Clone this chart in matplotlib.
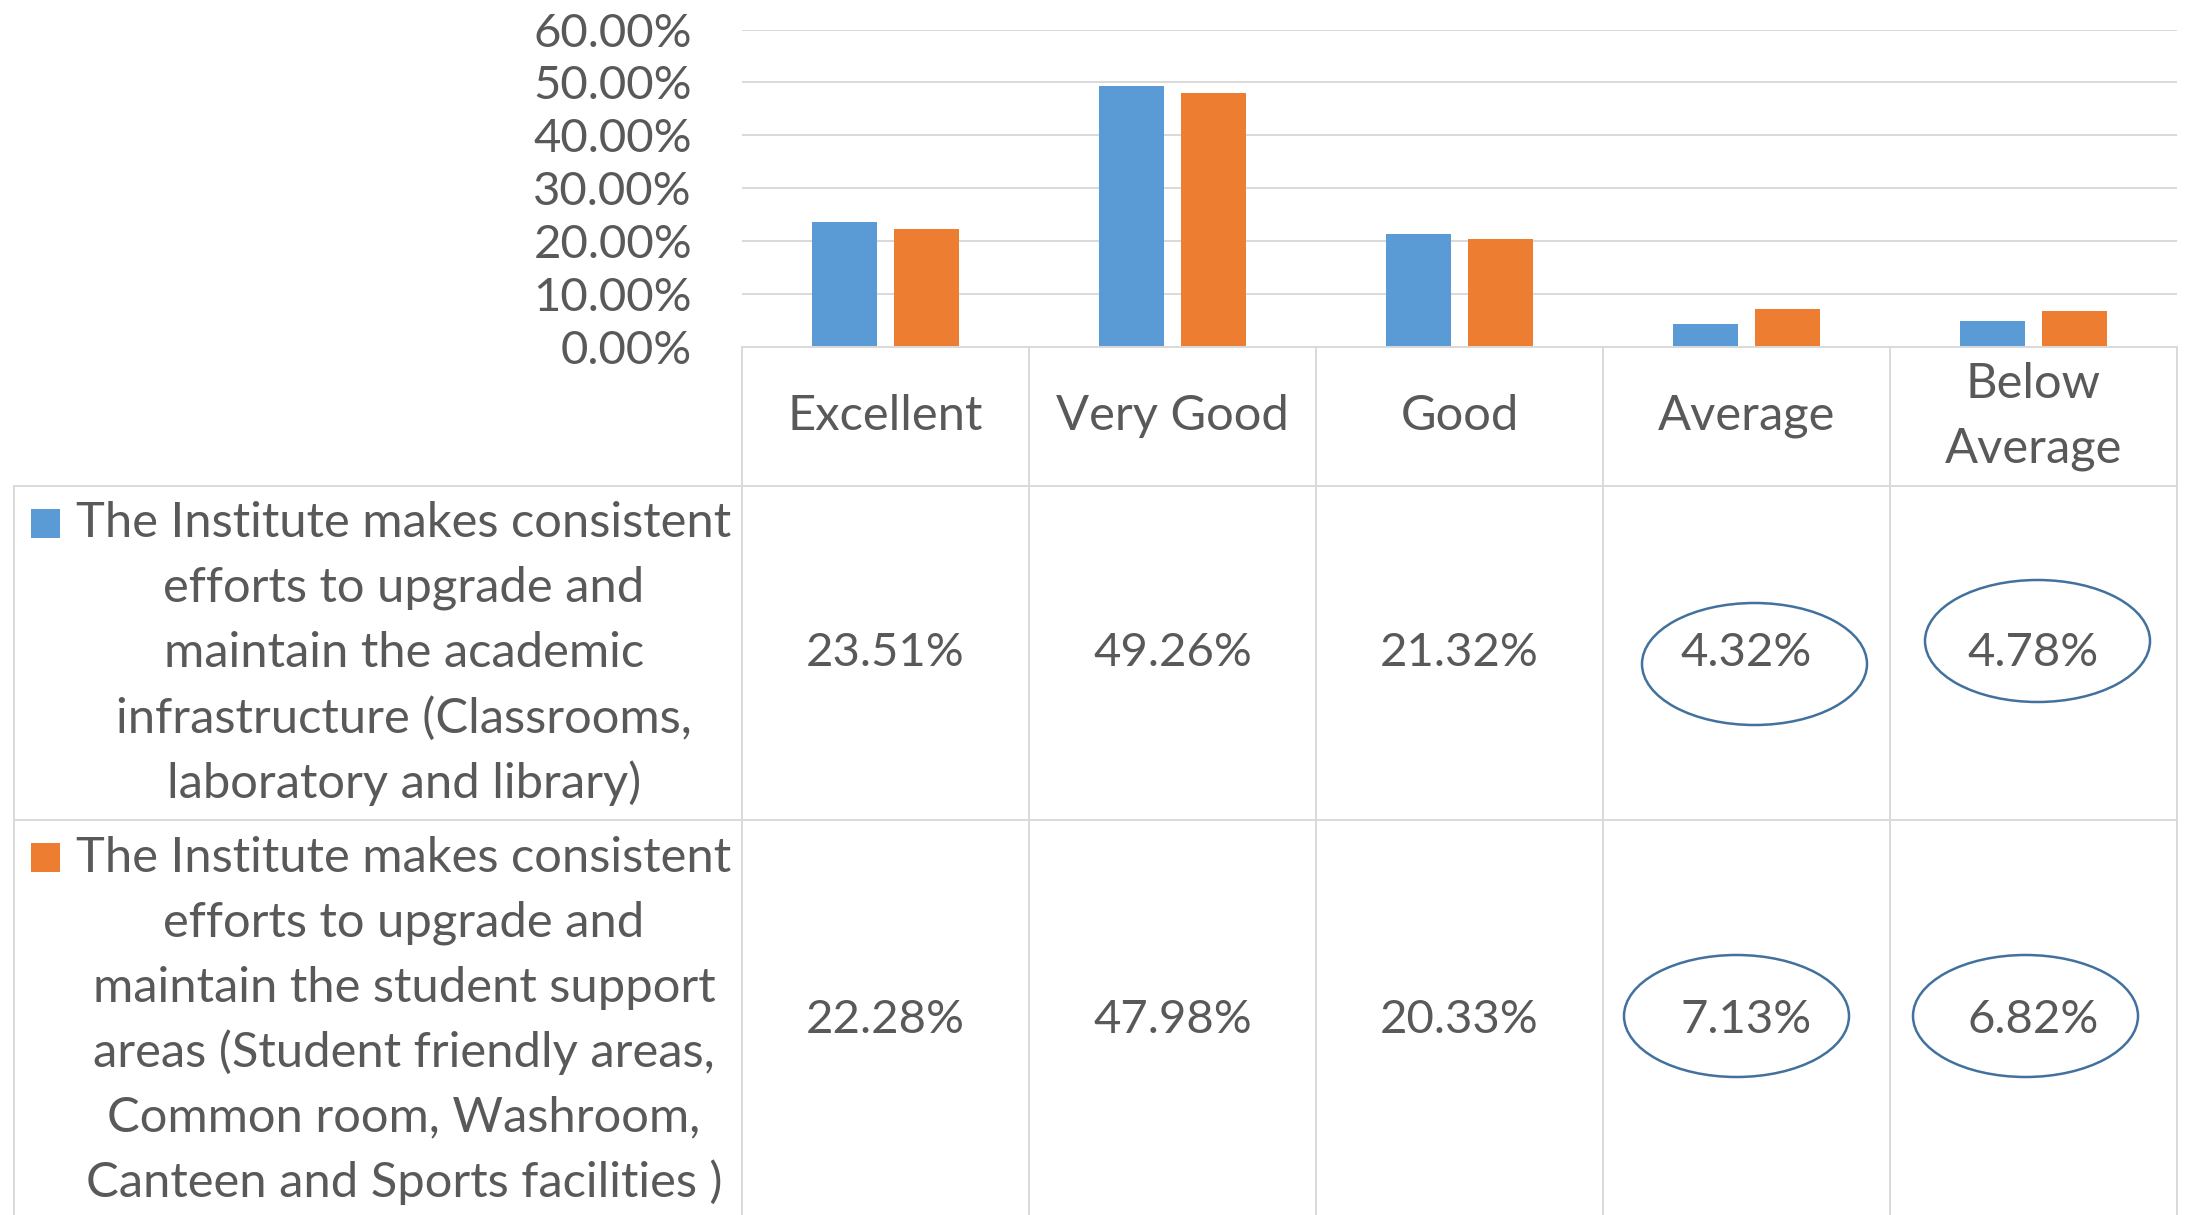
import matplotlib.pyplot as plt
from matplotlib.patches import Ellipse, Rectangle
from matplotlib.ticker import PercentFormatter

categories = ['Excellent', 'Very Good', 'Good', 'Average', 'Below\nAverage']
academic = [0.2351, 0.4926, 0.2132, 0.0432, 0.0478]
student = [0.2228, 0.4798, 0.2033, 0.0713, 0.0682]
series_labels = [
    'The Institute makes consistent\nefforts to upgrade and\nmaintain the academic\n'
    'infrastructure (Classrooms,\nlaboratory and library)',
    'The Institute makes consistent\nefforts to upgrade and\nmaintain the student support\n'
    'areas (Student friendly areas,\nCommon room, Washroom,\nCanteen and Sports facilities )',
]
y_ticks = [0.0, 0.1, 0.2, 0.3, 0.4, 0.5, 0.6]
# cells circled by hand: (row, column, x offset px, y offset px)
circled = [(0, 3, 8, 11), (0, 4, 4, -12), (1, 3, -10, -4), (1, 4, -8, -4)]

BLUE = '#5B9BD5'
ORANGE = '#ED7D31'
TEXT = '#595959'
GRID = '#D9D9D9'
RING = '#41719C'
FS = 34
FS_TABLE = 35.2

plt.rcParams['font.family'] = ['Lato', 'DejaVu Sans']

W, H = 2191, 1215
fig = plt.figure(figsize=(W / 100, H / 100), dpi=100)

# layout, in pixels of the output picture
PLOT_L, PLOT_R = 742, 2177
ZERO_Y, TOP_Y = 346.6, 29.6
TABLE_L = 14
ROW_EDGES = [ZERO_Y, 486, 820, 1220]
LINE_PITCH = 65
KEY = 29
unit = (PLOT_R - PLOT_L) / len(categories)  # px per category
label_w = (PLOT_L - TABLE_L) / unit

# --- bar chart ---
ax = fig.add_axes([PLOT_L / W, 1 - ZERO_Y / H, (PLOT_R - PLOT_L) / W, (ZERO_Y - TOP_Y) / H])
x = list(range(len(categories)))
bw, off = 0.224, 0.143
ax.bar([i - off for i in x], academic, bw, color=BLUE, zorder=3)
ax.bar([i + off for i in x], student, bw, color=ORANGE, zorder=3)
ax.set_xlim(-0.5, len(categories) - 0.5)
ax.set_ylim(0, 0.6)
ax.set_yticks(y_ticks)
ax.yaxis.set_major_formatter(PercentFormatter(xmax=1, decimals=2))
ax.tick_params(axis='y', length=0, pad=36, labelsize=FS, labelcolor=TEXT)
ax.set_xticks([])
for s in ax.spines.values():
    s.set_visible(False)
for t in y_ticks[1:]:
    ax.axhline(t, color=GRID, lw=1.4, zorder=1)
ax.patch.set_alpha(0)

# --- data table below ---
tb = fig.add_axes([TABLE_L / W, 0, (PLOT_R - TABLE_L) / W, 1 - ZERO_Y / H])
tb.set_xlim(-0.5 - label_w, len(categories) - 0.5)
tb.set_ylim(H, ZERO_Y)
tb.axis('off')
tb.patch.set_alpha(0)
left = -0.5 - label_w
right = len(categories) - 0.5
lk = dict(color=GRID, lw=1.4, clip_on=False)
tb.plot([-0.5, right], [ROW_EDGES[0]] * 2, **lk)
for yv in ROW_EDGES[1:3]:
    tb.plot([left, right], [yv, yv], **lk)
for i in range(len(categories) + 1):
    tb.plot([i - 0.5, i - 0.5], [ROW_EDGES[0], H], **lk)
tb.plot([left, left], [ROW_EDGES[1], H], **lk)


def centred_lines(xc, yc, label, fs):
    lines = label.split('\n')
    n = len(lines)
    for k, ln in enumerate(lines):
        tb.text(xc, yc + (k - (n - 1) / 2) * LINE_PITCH, ln, ha='center', va='center',
                fontsize=fs, color=TEXT)
    return yc - (n - 1) / 2 * LINE_PITCH


for i, c in enumerate(categories):
    centred_lines(i, (ROW_EDGES[0] + ROW_EDGES[1]) / 2, c, FS_TABLE)

text_cx = left + 390 / unit
for r, (vals, lab, col) in enumerate(zip([academic, student], series_labels, [BLUE, ORANGE])):
    cy = (ROW_EDGES[r + 1] + ROW_EDGES[r + 2]) / 2
    first = centred_lines(text_cx, cy, lab, FS_TABLE)
    tb.add_patch(Rectangle((left + 17 / unit, first - KEY / 2), KEY / unit, KEY,
                           color=col, lw=0))
    for i, v in enumerate(vals):
        tb.text(i, cy, f'{v * 100:.2f}%', ha='center', va='center', fontsize=FS, color=TEXT)

for r, ci, dx, dy in circled:
    cy = (ROW_EDGES[r + 1] + ROW_EDGES[r + 2]) / 2
    tb.add_patch(Ellipse((ci + dx / unit, cy + dy), 225 / unit, 122, fill=False,
                         edgecolor=RING, lw=1.8))

fig.savefig('out.png', dpi=100)
